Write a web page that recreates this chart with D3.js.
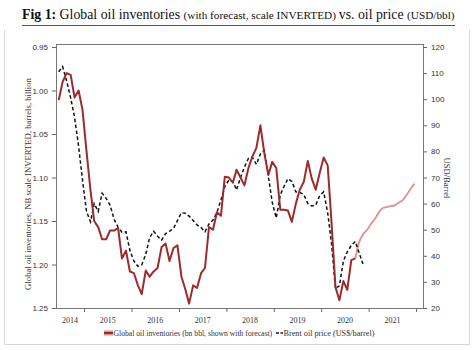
<!DOCTYPE html>
<html>
<head>
  <meta charset="utf-8">
  <title>Global oil inventories vs. oil price</title>
  <style>
    body {
      margin: 0;
      background: #fff;
    }
    svg {
      font-family: "Liberation Serif", "DejaVu Serif", serif;
    }
    .tick text {
      font-size: 8px;
      fill: #333;
    }
    .domain, .tick line {
      stroke: #666;
    }
  </style>
</head>
<body>
  <svg id="chart" width="476" height="350"></svg>

  <script src="https://d3js.org/d3.v7.min.js"></script>
  <script>
    // monthly, starting Jun 2014
    const startMonth = [2014, 5];

    // global oil inventories, bn bbl (actual)
    const inventories = [
      1.011, 0.990, 0.980, 0.982, 1.008, 1.000, 1.022, 1.070, 1.115, 1.150,
      1.157, 1.171, 1.171, 1.161, 1.161, 1.158, 1.193, 1.184, 1.208, 1.210,
      1.224, 1.234, 1.207, 1.214, 1.208, 1.204, 1.180, 1.176, 1.196, 1.181,
      1.178, 1.214, 1.229, 1.245, 1.224, 1.227, 1.210, 1.204, 1.157, 1.160,
      1.140, 1.144, 1.099, 1.100, 1.106, 1.091, 1.100, 1.109, 1.089, 1.076,
      1.066, 1.040, 1.072, 1.097, 1.082, 1.089, 1.137, 1.137, 1.138, 1.151,
      1.130, 1.114, 1.105, 1.081, 1.101, 1.114, 1.095, 1.077, 1.086, 1.150,
      1.226, 1.241, 1.219, 1.229, 1.195, 1.193
    ];

    // forecast, continues from the last actual month
    const forecast = [
      1.193, 1.174, 1.165, 1.160, 1.153, 1.147, 1.140, 1.135, 1.134, 1.133,
      1.132, 1.129, 1.126, 1.120, 1.113, 1.107
    ];

    // Brent, US$/barrel
    const brent = [
      110.5, 112.5, 107, 100.5, 93, 82, 69, 57, 53, 60,
      57, 64, 62, 59.5, 54, 51, 49, 49.2, 42, 38,
      36, 36.5, 40.5, 47, 49.4, 47.5, 46, 48.5, 49.4, 50.5,
      53.5, 56.5, 56.3, 55.2, 53.5, 51.8, 50.8, 49.2, 52.2, 53.7,
      56.6, 61.4, 66.5, 69, 68.5, 65.2, 70, 74, 77.3, 77.8,
      75, 79, 80.5, 70.5, 60.5, 54.5, 63.3, 66.5, 69.5, 68.5,
      64.5, 64.3, 63.5, 60, 59.1, 59.4, 63, 64.5, 56.5, 45,
      27.5, 28.5, 38, 41.5, 44, 45.5, 41, 36.5
    ];

    const invTicks = [0.95, 1.00, 1.05, 1.10, 1.15, 1.20, 1.25];
    const priceTicks = [20, 30, 40, 50, 60, 70, 80, 90, 100, 110, 120];
    const years = [2014, 2015, 2016, 2017, 2018, 2019, 2020, 2021];

    const monthDate = i => new Date(startMonth[0], startMonth[1] + i, 20);

    const pLeft = 56, pRight = 423, pTop = 44, pBottom = 308;
    const svg = d3.select("#chart");

    // scale a text element's font so it spans the wanted width
    function fitWidth(sel, want) {
      const node = sel.node();
      const w = node.getComputedTextLength();
      const k = want / w;
      sel.attr("font-size", (+sel.attr("font-size") || 10) * k);
      sel.selectAll("tspan").each(function () {
        const t = d3.select(this);
        t.attr("font-size", +t.attr("font-size") * k);
      });
      return sel;
    }

    const x = d3.scaleTime()
      .domain([new Date(2014, 4, 30), new Date(2022, 1, 23)])
      .range([pLeft, pRight]);

    const yInv = d3.scaleLinear()
      .domain([0.9465, 1.25])
      .range([pTop, pBottom]);

    const yPrice = d3.scaleLinear()
      .domain([121.15, 20])
      .range([pTop, pBottom]);

    // outer box
    svg.append("path")
      .attr("d", "M4.5,30V344.5H469.5V30")
      .attr("fill", "none")
      .attr("stroke", "#d6d6d6");

    // title
    const title = svg.append("text")
      .attr("x", 22)
      .attr("y", 19)
      .attr("font-size", 13.5)
      .attr("fill", "#111");
    title.append("tspan").attr("font-weight", "bold").attr("font-size", 13.5).text("Fig 1: ");
    title.append("tspan").attr("font-size", 13.5).text("Global oil inventories ");
    title.append("tspan").attr("font-size", 11).text("(with forecast, scale INVERTED) ");
    title.append("tspan").attr("font-size", 13.5).text("vs. oil price ");
    title.append("tspan").attr("font-size", 11).text("(USD/bbl)");
    fitWidth(title, 433);

    svg.append("line")
      .attr("x1", 22).attr("x2", 455)
      .attr("y1", 25.5).attr("y2", 25.5)
      .attr("stroke", "#555");

    // plot frame
    svg.append("rect")
      .attr("x", pLeft + 0.5).attr("y", pTop + 0.5)
      .attr("width", pRight - pLeft).attr("height", pBottom - pTop)
      .attr("fill", "none")
      .attr("stroke", "#777");

    // axes
    svg.append("g")
      .attr("transform", `translate(${pLeft},0)`)
      .call(d3.axisLeft(yInv).tickValues(invTicks).tickFormat(d3.format(".2f")).tickSize(4).tickPadding(4))
      .call(g => g.select(".domain").remove());

    svg.append("g")
      .attr("transform", `translate(${pRight},0)`)
      .call(d3.axisRight(yPrice).tickValues(priceTicks).tickSize(4).tickPadding(4))
      .call(g => g.select(".domain").remove());

    const yearStarts = d3.range(2015, 2023).map(y => new Date(y, 0, 1));
    svg.append("g")
      .attr("transform", `translate(0,${pBottom})`)
      .call(d3.axisBottom(x).tickValues(yearStarts).tickSize(4).tickFormat(""))
      .call(g => g.select(".domain").remove());

    // year labels centred between year boundaries
    svg.append("g")
      .selectAll("text")
      .data(years)
      .join("text")
      .attr("x", d => {
        const a = Math.max(x(new Date(d, 0, 1)), pLeft);
        const b = x(new Date(d + 1, 0, 1));
        return (a + b) / 2;
      })
      .attr("y", pBottom + 15)
      .attr("text-anchor", "middle")
      .attr("font-size", 8)
      .attr("fill", "#333")
      .text(d => d);

    // axis titles
    const leftTitle = svg.append("text")
      .attr("transform", `translate(31,184) rotate(-90)`)
      .attr("text-anchor", "middle")
      .attr("font-size", 8.5)
      .attr("fill", "#333")
      .text("Global oil inventories, NB scale INVERTED, barrels, billion");
    fitWidth(leftTitle, 212);

    const rightTitle = svg.append("text")
      .attr("transform", `translate(444,178) rotate(90)`)
      .attr("text-anchor", "middle")
      .attr("font-size", 8.5)
      .attr("fill", "#333")
      .text("USD/Barrel");
    fitWidth(rightTitle, 41);

    // lines
    const invData = inventories.map((v, i) => ({ date: monthDate(i), value: v }));
    const fcData = forecast.map((v, i) => ({ date: monthDate(inventories.length - 1 + i), value: v }));
    const brentData = brent.map((v, i) => ({ date: monthDate(i), value: v }));

    svg.append("path")
      .datum(fcData)
      .attr("fill", "none")
      .attr("stroke", "#e0908e")
      .attr("stroke-width", 1.8)
      .attr("d", d3.line().curve(d3.curveMonotoneX).x(d => x(d.date)).y(d => yInv(d.value)));

    svg.append("path")
      .datum(brentData)
      .attr("fill", "none")
      .attr("stroke", "#111")
      .attr("stroke-width", 1.5)
      .attr("stroke-dasharray", "3.5,2.5")
      .attr("d", d3.line().x(d => x(d.date)).y(d => yPrice(d.value)));

    svg.append("path")
      .datum(invData)
      .attr("fill", "none")
      .attr("stroke", "#9e2b2b")
      .attr("stroke-width", 2)
      .attr("stroke-linejoin", "round")
      .attr("d", d3.line().x(d => x(d.date)).y(d => yInv(d.value)));

    // legend
    const legend = svg.append("g").attr("transform", "translate(104,334)");
    legend.append("rect")
      .attr("x", 0).attr("y", -3.5)
      .attr("width", 9).attr("height", 5)
      .attr("fill", "#e0908e");
    legend.append("line")
      .attr("x1", 0).attr("x2", 9)
      .attr("y1", -1).attr("y2", -1)
      .attr("stroke", "#9e2b2b")
      .attr("stroke-width", 2);
    const leg1 = legend.append("text")
      .attr("x", 9.5).attr("y", 2)
      .attr("font-size", 8)
      .attr("fill", "#333")
      .text("Global oil inventories (bn bbl, shown with forecast)");
    fitWidth(leg1, 159);
    legend.append("line")
      .attr("x1", 172).attr("x2", 179)
      .attr("y1", -1).attr("y2", -1)
      .attr("stroke", "#111")
      .attr("stroke-width", 1.5)
      .attr("stroke-dasharray", "3,1.5");
    const leg2 = legend.append("text")
      .attr("x", 179.5).attr("y", 2)
      .attr("font-size", 8)
      .attr("fill", "#333")
      .text("Brent oil price (US$/barrel)");
    fitWidth(leg2, 91);
  </script>
</body>
</html>
